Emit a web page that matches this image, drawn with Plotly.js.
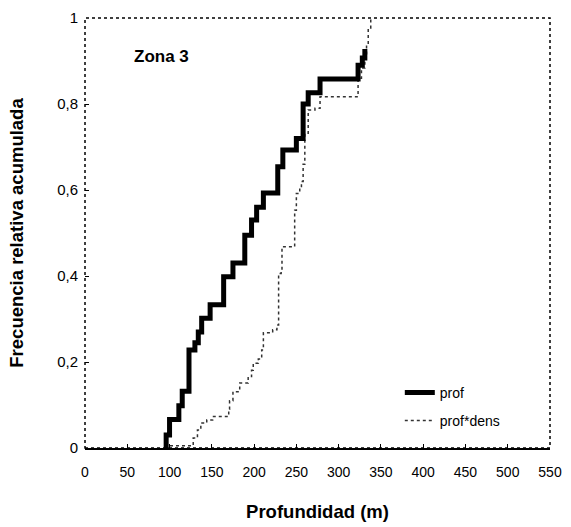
<!DOCTYPE html>
<html>
<head>
<meta charset="utf-8">
<script src="https://cdn.plot.ly/plotly-3.0.1.min.js"></script>
<style>html,body{margin:0;padding:0;background:#fff;}#chart{width:571px;height:527px;}</style>
</head>
<body>
<div id="chart"></div>
<script>
// Step points: depth (m) where cumulative frequency jumps, and value after jump
const profX = [96, 96, 100, 111, 115, 123, 130, 134, 138, 148, 164, 175, 189, 197, 203, 211, 228, 234, 250, 258, 264, 278, 323, 328, 331];
const profY = [0, 0.03, 0.066, 0.098, 0.132, 0.228, 0.245, 0.27, 0.302, 0.333, 0.398, 0.43, 0.495, 0.53, 0.56, 0.593, 0.654, 0.693, 0.72, 0.80, 0.826, 0.858, 0.89, 0.907, 0.928];

const densX = [96, 100, 128, 133, 137, 144, 151, 170, 171, 175, 183, 193, 197, 199, 205, 209, 211, 222, 227, 229, 232, 233, 248, 250, 254, 256, 258, 260, 264, 272, 278, 323, 327, 331, 333, 335, 338];
const densY = [0, 0.005, 0.023, 0.042, 0.058, 0.065, 0.073, 0.09, 0.11, 0.131, 0.151, 0.166, 0.181, 0.197, 0.207, 0.228, 0.268, 0.275, 0.286, 0.406, 0.414, 0.468, 0.553, 0.592, 0.604, 0.62, 0.66, 0.732, 0.786, 0.79, 0.817, 0.86, 0.884, 0.914, 0.937, 0.977, 1.0];

const xTicks = [0, 50, 100, 150, 200, 250, 300, 350, 400, 450, 500, 550];
const yTicks = [0, 0.2, 0.4, 0.6, 0.8, 1];
const yTickText = ["0", "0,2", "0,4", "0,6", "0,8", "1"];

const font = "Liberation Sans, Arial, sans-serif";

const traces = [
  {x: densX, y: densY, mode: 'lines', name: 'prof*dens', line: {shape: 'hv', color: '#333', width: 1.5, dash: 'dot'}, legend: 'legend2'},
  {x: profX, y: profY, mode: 'lines', name: 'prof', line: {shape: 'hv', color: '#000', width: 5}, legend: 'legend'}
];

const layout = {
  width: 571, height: 527,
  margin: {l: 85, r: 21, t: 18, b: 79},
  paper_bgcolor: '#fff', plot_bgcolor: '#fff',
  font: {family: font, color: '#000'},
  separators: ',.',
  showlegend: true,
  xaxis: {
    range: [0, 550], tickvals: xTicks, ticktext: xTicks.map(String),
    ticks: 'inside', ticklen: 4, tickcolor: '#000', showgrid: false, zeroline: false,
    showline: true, linecolor: '#000', linewidth: 1.5,
    tickfont: {size: 14, family: font}, ticklabelstandoff: 11,
    title: {text: '<b>Profundidad (m)</b>', font: {size: 18.5, family: font}, standoff: 26}
  },
  yaxis: {
    range: [0, 1], tickvals: yTicks, ticktext: yTickText,
    ticks: 'inside', ticklen: 4, tickcolor: '#000', showgrid: false, zeroline: false,
    showline: false,
    tickfont: {size: 15, family: font}, ticklabelstandoff: 6,
    title: {text: '<b>Frecuencia relativa acumulada</b>', font: {size: 18.5, family: font}, standoff: 28}
  },
  shapes: [
    {type: 'rect', xref: 'paper', yref: 'paper', x0: 0, x1: 1, y0: 0, y1: 1,
     line: {color: '#000', width: 1.5, dash: 'dot'}}
  ],
  annotations: [
    {x: 55, y: 0.91, xref: 'x', yref: 'y', xanchor: 'left', yanchor: 'middle', showarrow: false,
     text: '<b>Zona 3</b>', font: {size: 17, family: font}}
  ],
  legend: {x: 0.677, y: 0.128, xanchor: 'left', yanchor: 'middle', bgcolor: 'rgba(0,0,0,0)',
           font: {size: 14, family: font}, itemwidth: 30, tracegroupgap: 0},
  legend2: {x: 0.677, y: 0.063, xanchor: 'left', yanchor: 'middle', bgcolor: 'rgba(0,0,0,0)',
            font: {size: 14, family: font}, itemwidth: 30, tracegroupgap: 0}
};

Plotly.newPlot('chart', traces, layout, {displayModeBar: false, staticPlot: true});
</script>
</body>
</html>
